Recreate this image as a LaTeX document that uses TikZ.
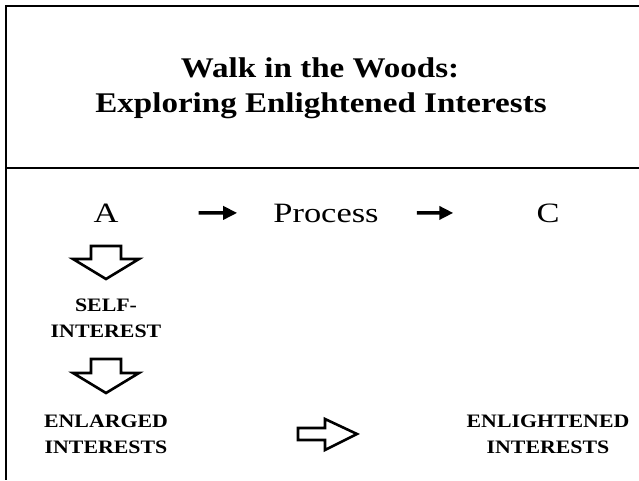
\documentclass[tikz,border=0pt]{standalone}
\usepackage{fontspec}
\setmainfont{Liberation Serif}
\newfontfamily\titlerm[FakeStretch=1.16]{Liberation Serif}
\newfontfamily\widerm[FakeStretch=1.23]{Liberation Serif}
\newfontfamily\capsrm[FakeStretch=1.15]{Liberation Serif}
\usetikzlibrary{arrows.meta}
\begin{document}
\begin{tikzpicture}[x=1pt,y=-1pt,
  frame/.style={line width=2pt},
  titletext/.style={font=\titlerm\fontsize{28.5}{34}\selectfont\bfseries, inner sep=0pt, anchor=base},
  rowtext/.style={font=\widerm\fontsize{28}{32}\selectfont, inner sep=0pt, anchor=base},
  captext/.style={font=\capsrm\fontsize{19}{26}\selectfont\bfseries, align=center, inner sep=0pt},
  flow/.style={line width=3.5pt, -{Triangle[length=14pt,width=13pt]}},
  hollow/.style={line width=2.6pt, fill=white, line join=miter}]
  \useasboundingbox (0,0) rectangle (639,480);

  % frame: top, left and dividing line
  \draw[frame] (639,6) -- (6,6) -- (6,480);
  \draw[frame] (6,168) -- (639,168);

  % title, two lines
  \node[titletext] (title1) at (320,77) {Walk in the Woods:};
  \node[titletext] (title2) at (321,112) {Exploring Enlightened Interests};

  % A -> Process -> C
  \node[rowtext] (A) at (106,222) {A};
  \node[rowtext] (P) at (326,222) {Process};
  \node[rowtext] (C) at (548,222) {C};
  \draw[flow, shorten <=80pt, shorten >=36pt] (A.east) -- (P.west);
  \draw[flow, shorten <=38pt, shorten >=83pt] (P.east) -- (C.west);

  % left column
  \node[captext] (self) at (106,318) {SELF-\\INTEREST};
  \node[captext] (enl) at (106,434) {ENLARGED\\INTERESTS};
  \node[captext] (enli) at (548,434) {ENLIGHTENED\\INTERESTS};

  % hollow block arrows
  \draw[hollow] (91,246) -- (121,246) -- (121,259) -- (139,259) -- (106,279)
    -- (73,259) -- (91,259) -- cycle;
  \draw[hollow] (91,359) -- (121,359) -- (121,373) -- (139,373) -- (106,393)
    -- (73,373) -- (91,373) -- cycle;
  \draw[hollow] (298,428) -- (325,428) -- (325,419) -- (357,434) -- (325,450)
    -- (325,440) -- (298,440) -- cycle;
\end{tikzpicture}
\end{document}
